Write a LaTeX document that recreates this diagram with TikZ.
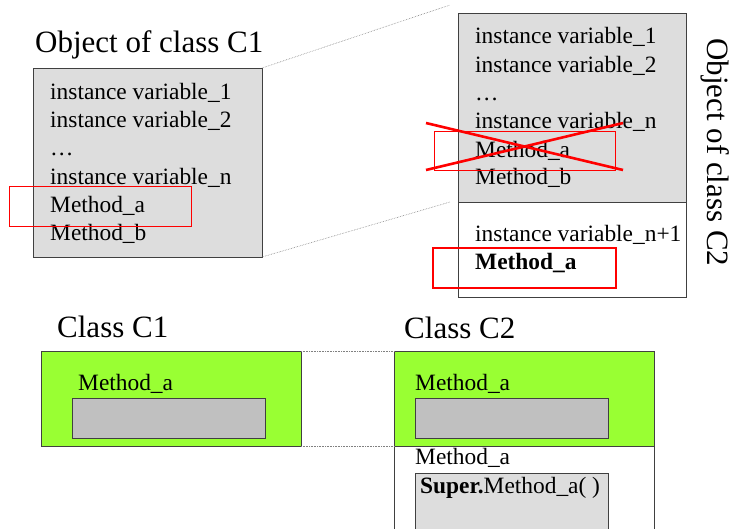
\documentclass[tikz,border=0pt]{standalone}
\usepackage{fontspec}
\setmainfont{Liberation Serif}
\usepackage{tikz}

\definecolor{objgray}{HTML}{DDDDDD}
\definecolor{methgray}{HTML}{C0C0C0}
\definecolor{clsgreen}{HTML}{99FF33}
\definecolor{edge}{HTML}{404040}

\tikzset{
  box/.style={draw=edge, line width=1pt, inner sep=0pt, outer sep=0pt, anchor=north west},
  redbox/.style={draw=red, line width=0.8pt, inner sep=0pt, outer sep=0pt, anchor=north west},
  txt/.style={anchor=base west, inner sep=0pt, font=\fontsize{23.4}{28}\selectfont},
  title/.style={anchor=base west, inner sep=0pt, font=\fontsize{31}{37}\selectfont},
  link/.style={draw=gray, densely dotted, line width=0.6pt}
}

\begin{document}
\begin{tikzpicture}[x=1pt,y=-1pt]
\useasboundingbox (0,0) rectangle (738,528);
\clip (0,0) rectangle (738,528);

% object of class C1
\node (objtitle1) [title] at (35,52) {Object of class C1};
\node (obj1) [box, fill=objgray, minimum width=229pt, minimum height=189pt] at (33,68) {};
\node (o1var1) [txt] at (50,99) {instance variable\_1};
\node (o1var2) [txt] at (50,127) {instance variable\_2};
\node (o1dots) [txt] at (50,155) {\ldots};
\node (o1varn) [txt] at (50,184) {instance variable\_n};
\node (o1metha) [txt] at (50,212) {Method\_a};
\node (o1methb) [txt] at (50,240) {Method\_b};
\node (o1mark) [redbox, minimum width=182pt, minimum height=40pt] at (9,186) {};

% object of class C2
\node (obj2) [box, fill=objgray, minimum width=228pt, minimum height=189pt] at (458,13) {};
\node (obj2new) [box, fill=white, minimum width=228pt, minimum height=95pt] at (458,202) {};
\node (o2var1) [txt] at (475,43) {instance variable\_1};
\node (o2var2) [txt] at (475,72) {instance variable\_2};
\node (o2dots) [txt] at (475,100) {\ldots};
\node (o2varn) [txt] at (475,128) {instance variable\_n};
\node (o2metha) [txt] at (475,157) {Method\_a};
\node (o2methb) [txt] at (475,184) {Method\_b};
\node (o2varn1) [txt] at (475,241) {instance variable\_n+1};
\node (o2newa) [txt] at (475,269) {\textbf{Method\_a}};
\node (o2mark) [redbox, minimum width=181pt, minimum height=39pt] at (434,131) {};
\node (o2newmark) [redbox, line width=2.6pt, minimum width=183pt, minimum height=40pt] at (433,248) {};
\draw [red, line width=2.6pt] (426,123) -- (623,170);
\draw [red, line width=2.6pt] (426,170) -- (623,123);
\node (objtitle2) [title, rotate=-90] at (707,38) {Object of class C2};

% dotted links between the objects
\coordinate (linktop) at (450,5);
\coordinate (linkbot) at (450,202);
\draw [link] (obj1.north east) -- (linktop);
\draw [link] (obj1.south east) -- (linkbot);

% class C1
\node (clstitle1) [title] at (57,337) {Class C1};
\node (cls1) [box, fill=clsgreen, minimum width=260pt, minimum height=95pt] at (41,351) {};
\node (c1metha) [txt] at (78,390) {Method\_a};
\node (c1body) [box, fill=methgray, minimum width=193pt, minimum height=40pt] at (72,398) {};

% class C2
\node (clstitle2) [title] at (404,338) {Class C2};
\node (cls2) [box, fill=clsgreen, minimum width=260pt, minimum height=95pt] at (394,351) {};
\node (c2metha) [txt] at (415,390) {Method\_a};
\node (c2body) [box, fill=methgray, minimum width=193pt, minimum height=40pt] at (415,398) {};
\node (cls2new) [box, fill=white, minimum width=260pt, minimum height=100pt] at (394,446) {};
\node (c2newa) [txt] at (415,464) {Method\_a};
\node (c2newbody) [box, fill=objgray, minimum width=193pt, minimum height=80pt] at (415,473) {};
\node (c2super) [txt] at (420,493) {\textbf{Super.}Method\_a( )};

% dotted links between the classes
\draw [link] (cls1.north east) -- (cls2.north west);
\draw [link] (cls1.south east) -- (cls2.south west);

\end{tikzpicture}
\end{document}
